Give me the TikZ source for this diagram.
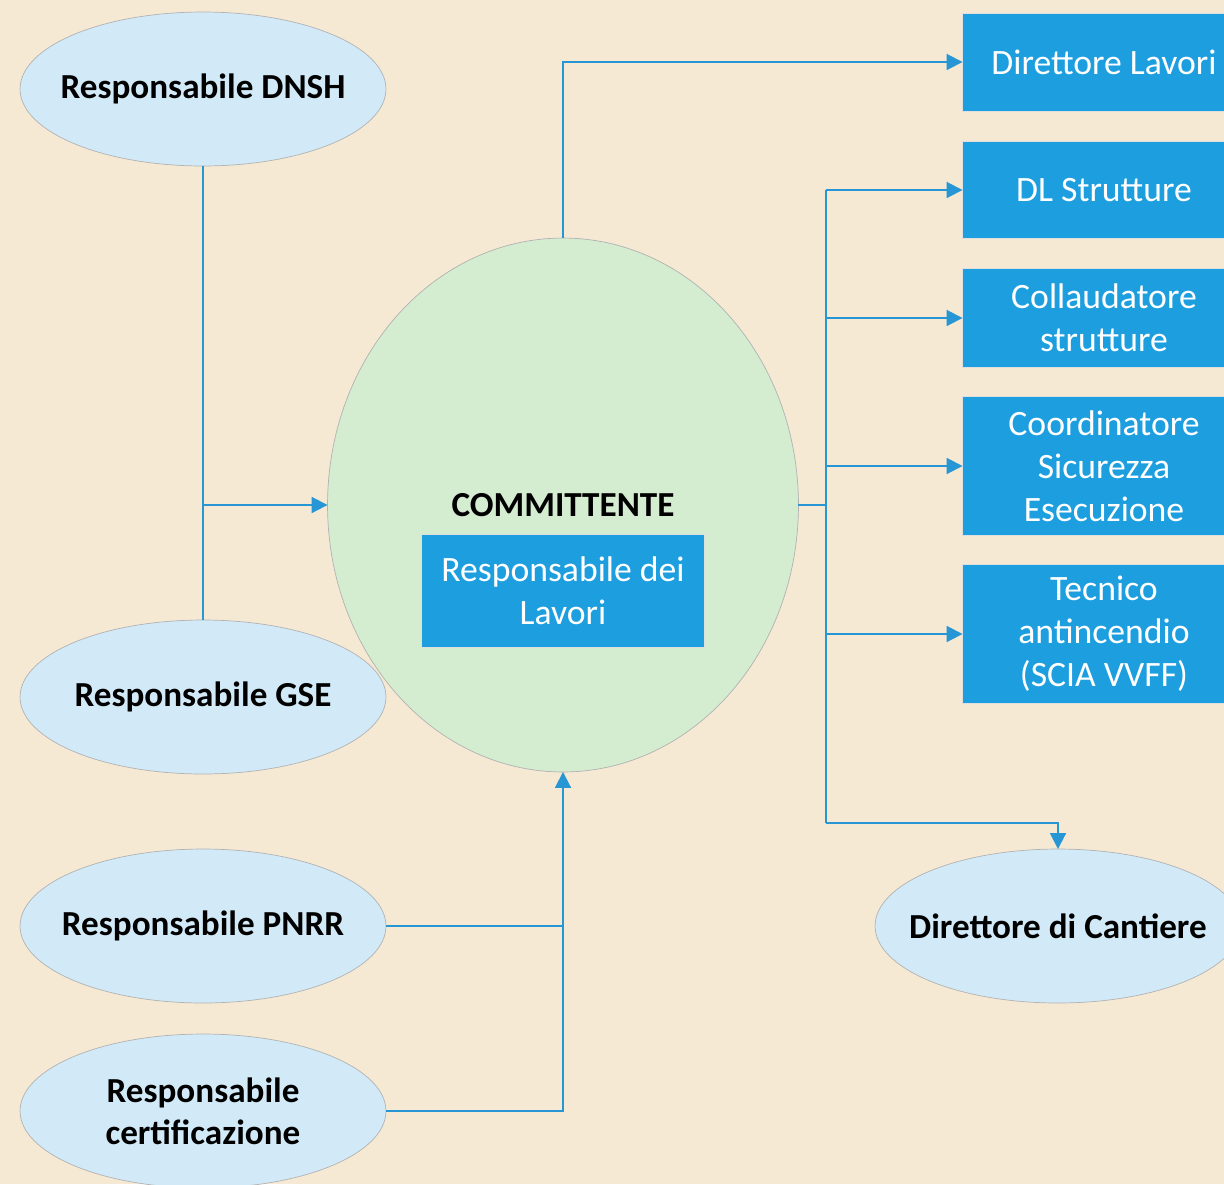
\documentclass[tikz,border=0pt]{standalone}
\usepackage{fontspec}
\setmainfont{Carlito}
\usepackage{xcolor}
\usetikzlibrary{shapes.geometric,arrows.meta,calc}

\definecolor{sfondo}{RGB}{245,233,212}
\definecolor{azzurro}{RGB}{210,234,248}
\definecolor{verdino}{RGB}{212,236,208}
\definecolor{blu}{RGB}{29,158,223}
\definecolor{linea}{RGB}{38,150,212}

\tikzset{
  ruolo/.style={ellipse, fill=azzurro, draw=black!30, line width=0.4pt,
    minimum width=7.32cm, minimum height=3.08cm, inner xsep=-1.5cm, inner ysep=0pt,
    outer sep=0pt, font=\fontsize{20}{24}\selectfont\bfseries, align=center},
  casella/.style={rectangle, fill=blu, draw=white!75!gray, line width=0.4pt,
    minimum width=5.66cm, inner sep=0pt, outer sep=0pt, text=white,
    font=\fontsize{20.3}{24.4}\selectfont, align=center},
  conn/.style={draw=linea, line width=1.1pt},
  freccia/.style={conn, -{Triangle[length=9pt,width=9pt]}}
}

\begin{document}
\begin{tikzpicture}[x=0.02cm,y=-0.02cm]
\useasboundingbox (0,0) rectangle (1224,1184);
\clip (0,0) rectangle (1224,1184);
\fill[sfondo] (0,0) rectangle (1224,1184);

% committente
\node[ellipse, fill=verdino, draw=black!30, line width=0.4pt, minimum width=9.42cm,
  minimum height=10.68cm, inner sep=0pt, outer sep=0pt] (comm) at (563,505) {};
\node[font=\fontsize{20}{24}\selectfont\bfseries] (titolo) at (563,505) {COMMITTENTE};
\node[casella, minimum height=2.26cm] (rdl) at (563,591) {Responsabile dei\\Lavori};

% responsabili a sinistra
\node[ruolo] (dnsh) at (203,89) {Responsabile DNSH};
\node[ruolo] (gse) at (203,697) {Responsabile GSE};
\node[ruolo] (pnrr) at (203,926) {Responsabile PNRR};
\node[ruolo] (cert) at (203,1111) {Responsabile\\certificazione};

% figure a destra
\node[casella, minimum height=1.96cm] (dl) at (1104,62) {Direttore Lavori};
\node[casella, minimum height=1.94cm] (dls) at (1104,190) {DL Strutture};
\node[casella, minimum height=1.98cm] (coll) at (1104,318) {Collaudatore\\strutture};
\node[casella, minimum height=2.78cm] (cse) at (1104,466) {Coordinatore\\Sicurezza\\Esecuzione};
\node[casella, minimum height=2.78cm] (vvff) at (1104,634) {Tecnico\\antincendio\\(SCIA VVFF)};
\node[ruolo] (cantiere) at (1058,926) {Direttore di Cantiere};

% collegamenti
\draw[conn] (dnsh.south) -- (gse.north);
\draw[freccia] (dnsh.south |- comm.west) -- (comm.west);
\draw[freccia] (comm.north) |- (dl.west);

\coordinate (nodo) at (826,505);
\coordinate (svolta) at (826,823);
\draw[conn] (comm.east) -- (nodo);
\draw[conn] (nodo |- dls.west) -- (svolta);
\foreach \b in {dls,coll,cse,vvff}
  \draw[freccia] (nodo |- \b.west) -- (\b.west);
\draw[freccia] (svolta) -| (cantiere.north);

\draw[conn] (pnrr.east) -- (pnrr.east -| comm.south);
\draw[freccia] (cert.east) -| (comm.south);
\end{tikzpicture}
\end{document}
